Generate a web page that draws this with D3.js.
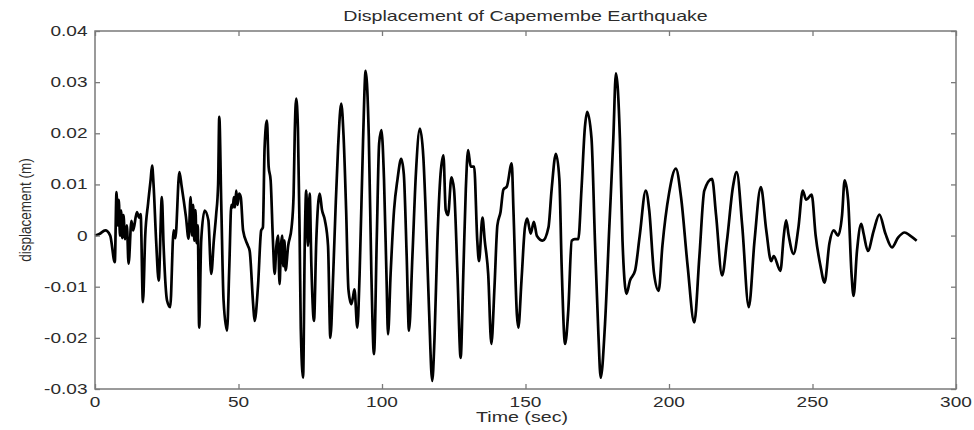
<!DOCTYPE html>
<html>
<head>
<meta charset="utf-8">
<script src="https://cdn.jsdelivr.net/npm/d3@7"></script>
<style>
  body { margin: 0; background: #fff; }
  svg { display: block; }
  text { font-family: "Liberation Sans", Arial, Helvetica, sans-serif; fill: #2b2b2b; }
</style>
</head>
<body>
<svg id="chart" width="974" height="430"></svg>
<script>
// Ground displacement record (time in seconds, displacement in metres)
const timeSec = [
  0, 1.5, 3.6, 5.3, 6.9, 7.5, 7.9, 8.3, 8.7, 9.1, 9.5, 9.9, 10.5, 11.1, 11.7, 12.7, 13.3, 14.6, 15.4, 15.9,
  16.7, 17.5, 18.5, 19.4, 19.9, 20.4, 21.3, 22.2, 23.3, 23.9, 25.1, 26.2, 27.4, 28.0, 29.4, 30.2, 31.7, 32.6,
  33.3, 33.8, 34.2, 34.6, 35.0, 35.4, 35.8, 36.3, 37.0, 38.2, 39.5, 40.5, 41.4, 42.2, 42.9, 43.3, 44.0, 44.8,
  46.0, 46.8, 47.5, 48.0, 48.4, 48.8, 49.2, 49.7, 50.2, 50.8, 51.6, 53.3, 53.9, 55.1, 55.6, 56.8, 57.9, 58.5,
  59.1, 59.9, 60.5, 61.2, 62.0, 62.6, 63.2, 63.8, 64.3, 64.8, 65.2, 65.6, 66.0, 66.4, 67.3, 68.5, 69.2, 69.6,
  70.1, 70.7, 71.3, 71.7, 72.5, 73.1, 73.6, 74.2, 74.8, 75.4, 76.3, 77.1, 78.3, 79.1, 80.1, 81.2, 82.0, 83.0,
  83.8, 84.7, 85.8, 86.6, 87.5, 88.3, 89.3, 89.9, 90.4, 91.4, 92.2, 93.4, 94.3, 95.4, 96.3, 97.2, 98.2, 99.0,
  99.8, 100.7, 101.6, 102.1, 103.0, 104.2, 105.4, 106.7, 107.6, 108.6, 109.4, 110.6, 111.8, 113.2, 114.4,
  115.2, 116.4, 117.5, 118.3, 119.3, 120.4, 121.4, 122.2, 123.0, 124.2, 125.1, 126.3, 127.4, 128.3, 129.2,
  130.0, 130.9, 132.1, 133.2, 133.8, 135.0, 135.8, 137.0, 138.1, 139.2, 140.2, 141.3, 142.3, 143.5, 145.2,
  145.8, 147.0, 147.5, 148.6, 149.8, 150.6, 151.8, 152.9, 154.0, 156.0, 158.0, 159.1, 160.6, 161.8, 162.6,
  163.8, 164.9, 166.1, 167.2, 168.4, 169.5, 170.7, 171.5, 173.0, 174.2, 175.4, 176.2, 177.7, 179.2, 180.6,
  181.5, 182.9, 183.8, 185.2, 186.4, 188.2, 189.8, 191.9, 193.1, 194.8, 196.4, 197.7, 200.0, 202.4, 204.2,
  206.5, 208.8, 210.6, 212.3, 215.0, 216.4, 218.5, 220.2, 222.3, 223.6, 225.5, 227.8, 229.8, 232.0, 233.9,
  235.6, 236.5, 238.8, 240.0, 240.8, 241.7, 243.4, 245.1, 246.6, 247.8, 249.7, 251.1, 252.8, 254.2, 255.9,
  257.4, 258.9, 260.3, 261.2, 262.4, 263.6, 264.3, 265.5, 267.0, 267.8, 269.3, 271.3, 273.3, 275.4, 277.7,
  279.8, 282.1, 284.0, 286.3
];
const displacement = [
  0.0, 0.0003, 0.001, 0.0, -0.0052, 0.0085, 0.002, 0.007, 0.0, 0.0049, -0.0005, 0.004, -0.0007, 0.002, -0.0055, 0.0029, 0.001, 0.0046, 0.0035, 0.0042,
  -0.013, 0.0, 0.0063, 0.011, 0.0137, 0.010, -0.001, -0.0088, 0.0075, -0.002, -0.0127, -0.014, 0.001, -0.0005, 0.0124, 0.0096, 0.0036, -0.0006,
  0.0075, 0.0, 0.006, -0.001, 0.005, -0.0015, 0.002, -0.018, -0.001, 0.0049, 0.003, -0.0075, -0.001, 0.004, 0.010, 0.0232, 0.006, -0.0127,
  -0.0186, -0.006, 0.006, 0.0055, 0.0075, 0.0055, 0.0088, 0.006, 0.0082, 0.0075, 0.001, -0.002, -0.003, -0.0134, -0.0167, -0.0098, 0.001, 0.0016,
  0.0173, 0.0225, 0.0135, 0.0108, -0.001, -0.0075, -0.002, 0.0, -0.0095, -0.002, 0.0, -0.006, -0.001, -0.0068, -0.002, 0.0016, 0.008, 0.020,
  0.0268, 0.021, 0.0, -0.018, -0.0278, -0.001, 0.0088, -0.002, 0.0082, -0.006, -0.0167, -0.001, 0.0082, 0.005, 0.003, -0.002, -0.020, -0.0075,
  0.005, 0.0173, 0.0258, 0.0196, 0.005, -0.0105, -0.0134, -0.012, -0.0105, -0.018, -0.0075, 0.0186, 0.0322, 0.0194, -0.0075, -0.0232, 0.0, 0.018,
  0.0206, 0.011, -0.0088, -0.0193, -0.0075, 0.005, 0.011, 0.015, 0.012, -0.004, -0.0186, -0.004, 0.012, 0.0209, 0.0154,
  0.005, -0.0147, -0.0284, -0.020, -0.001, 0.012, 0.0157, 0.005, 0.004, 0.0114, 0.009, -0.0075, -0.0239, -0.008, 0.009,
  0.0167, 0.0135, 0.0135, -0.001, -0.005, 0.0035, -0.001, -0.0075, -0.0212, -0.010, 0.002, 0.0046, 0.009, 0.0096, 0.0141,
  0.005, -0.0154, -0.018, -0.0088, 0.0016, 0.0033, 0.0004, 0.0027, -0.0001, -0.001, 0.0016, 0.009, 0.016, 0.011, -0.006,
  -0.0212, -0.0147, -0.001, -0.0007, -0.0007, 0.009, 0.0212, 0.0242, 0.019, -0.001, -0.0193, -0.0278, -0.0173, 0.0016, 0.019,
  0.0317, 0.019, -0.001, -0.0114, -0.0088, -0.0068, 0.0, 0.0088, 0.005, -0.0075, -0.0108, -0.002, 0.0082, 0.0131, 0.0075,
  -0.006, -0.017, -0.004, 0.0088, 0.0111, 0.004, -0.0078, -0.001, 0.0096, 0.0124, 0.002, -0.014, -0.001, 0.0095, 0.001,
  -0.005, -0.004, -0.0069, 0.0, 0.003, 0.0, -0.0036, 0.0016, 0.0088, 0.007, 0.008, 0.0, -0.006, -0.0092, -0.0015,
  0.001, 0.0, 0.004, 0.0108, 0.007, -0.0075, -0.0118, -0.003, 0.0023, 0.0004, -0.003, 0.0009, 0.0041, 0.0004, -0.0023,
  -0.0004, 0.0006, 0.0, -0.001
];

const xTicks = [0, 50, 100, 150, 200, 250, 300];
const xTickLabels = ["0", "50", "100", "150", "200", "250", "300"];
const yTicks = [-0.03, -0.02, -0.01, 0, 0.01, 0.02, 0.03, 0.04];
const yTickLabels = ["-0.03", "-0.02", "-0.01", "0", "0.01", "0.02", "0.03", "0.04"];

const titleText = "Displacement of Capemembe Earthquake";
const xLabelText = "Time (sec)";
const yLabelText = "displacement (m)";

const svg = d3.select("#chart");
const plotLeft = 95, plotRight = 956, plotTop = 31, plotBottom = 389;

const x = d3.scaleLinear().domain([0, 300]).range([plotLeft, plotRight]);
const y = d3.scaleLinear().domain([-0.03, 0.04]).range([plotBottom, plotTop]);

const axisColor = "#7a7a7a";

// displacement trace
const line = d3.line()
  .x(d => x(d[0]))
  .y(d => y(d[1]))
  .curve(d3.curveMonotoneX);

svg.append("path")
  .datum(d3.zip(timeSec, displacement))
  .attr("d", line)
  .attr("fill", "none")
  .attr("stroke", "#000")
  .attr("stroke-width", 2.7)
  .attr("stroke-linejoin", "round");

// box frame
svg.append("rect")
  .attr("x", plotLeft).attr("y", plotTop)
  .attr("width", plotRight - plotLeft).attr("height", plotBottom - plotTop)
  .attr("fill", "none")
  .attr("stroke", axisColor)
  .attr("stroke-width", 1.5);

// inward tick marks on all four sides
const tickOnly = g => {
  g.select(".domain").remove();
  g.selectAll("text").remove();
  g.selectAll("line").attr("stroke", axisColor).attr("stroke-width", 1.3);
};
svg.append("g").attr("transform", `translate(0,${plotBottom})`)
  .call(d3.axisBottom(x).tickValues(xTicks).tickSize(-5)).call(tickOnly);
svg.append("g").attr("transform", `translate(0,${plotTop})`)
  .call(d3.axisTop(x).tickValues(xTicks).tickSize(-5)).call(tickOnly);
svg.append("g").attr("transform", `translate(${plotLeft},0)`)
  .call(d3.axisLeft(y).tickValues(yTicks).tickSize(-5)).call(tickOnly);
svg.append("g").attr("transform", `translate(${plotRight},0)`)
  .call(d3.axisRight(y).tickValues(yTicks).tickSize(-5)).call(tickOnly);

// tick labels (wide lettering)
svg.append("g").selectAll("text")
  .data(xTicks)
  .join("text")
  .attr("transform", d => `translate(${x(d)},406.5) scale(1.36,1)`)
  .attr("text-anchor", "middle")
  .attr("font-size", 14)
  .text((d, i) => xTickLabels[i]);

svg.append("g").selectAll("text")
  .data(yTicks)
  .join("text")
  .attr("transform", d => `translate(87.5,${y(d) + 5}) scale(1.36,1)`)
  .attr("text-anchor", "end")
  .attr("font-size", 14)
  .text((d, i) => yTickLabels[i]);

// title and axis labels
svg.append("text")
  .attr("transform", "translate(525.5,20.5) scale(1.31,1)")
  .attr("text-anchor", "middle")
  .attr("font-size", 15)
  .text(titleText);

svg.append("text")
  .attr("transform", "translate(522,422) scale(1.31,1)")
  .attr("text-anchor", "middle")
  .attr("font-size", 15)
  .text(xLabelText);

svg.append("text")
  .attr("transform", "translate(31,210) scale(1.2,1) rotate(-90)")
  .attr("text-anchor", "middle")
  .attr("font-size", 13.5)
  .text(yLabelText);
</script>
</body>
</html>
